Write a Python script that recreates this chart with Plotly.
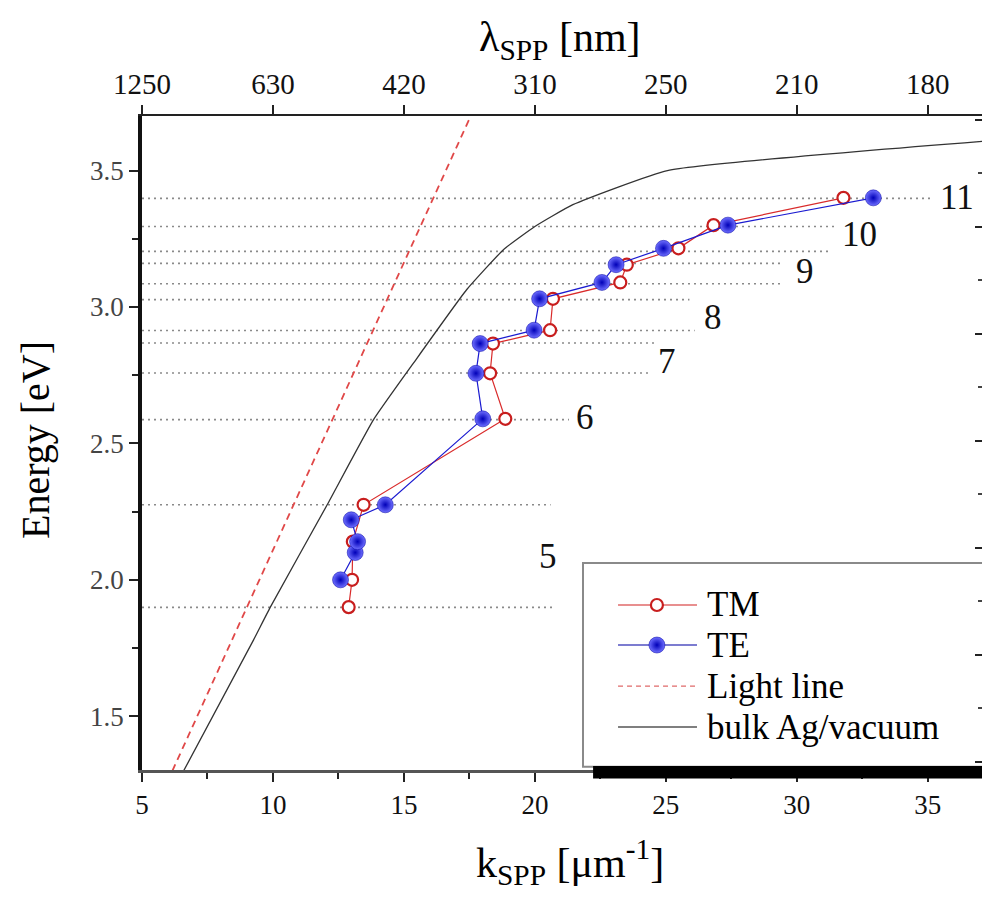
import plotly.graph_objects as go

# ---------------- data ----------------
k_ticks = [5, 10, 15, 20, 25, 30, 35]
lam_ticktext = ["1250", "630", "420", "310", "250", "210", "180"]
e_ticks = [1.5, 2.0, 2.5, 3.0, 3.5]

tm_k = [12.89, 13.02, 13.05, 13.46, 18.87, 18.29, 18.40, 20.58, 20.69, 23.26, 23.51, 25.48, 26.82, 31.78]
tm_E = [1.90, 2.00, 2.14, 2.275, 2.59, 2.757, 2.866, 2.915, 3.03, 3.09, 3.155, 3.215, 3.30, 3.40]

te_k = [12.58, 13.14, 13.23, 12.99, 14.29, 18.01, 17.75, 17.91, 19.97, 20.18, 22.56, 23.10, 24.91, 27.37, 32.92]
te_E = [2.00, 2.10, 2.14, 2.22, 2.275, 2.59, 2.757, 2.866, 2.915, 3.03, 3.09, 3.155, 3.215, 3.30, 3.40]

light_k = [6.16, 17.55]
light_E = [1.30, 3.70]

bulk_k = [6.59, 9.26, 9.90, 12.07, 13.84, 15.37, 17.40, 18.8, 20.0, 21.45, 25.06, 37.07]
bulk_E = [1.30, 1.78, 1.90, 2.275, 2.587, 2.795, 3.064, 3.21, 3.295, 3.375, 3.50, 3.607]

level_E = [3.398, 3.295, 3.204, 3.160, 3.085, 3.027, 2.914, 2.868, 2.758, 2.587, 2.275, 1.899]
level_kend = [35.1, 31.5, 31.3, 29.4, 29.4, 25.9, 26.1, 24.6, 24.4, 21.3, 20.6, 20.8]

mode_labels = ["5", "6", "7", "8", "9", "10", "11"]
mode_label_k = [20.49, 21.9, 25.05, 26.8, 30.3, 32.4, 36.1]
mode_label_E = [2.086, 2.594, 2.80, 2.96, 3.13, 3.265, 3.40]

legend_names = ["TM", "TE", "Light line", "bulk Ag/vacuum"]

# ---------------- style ----------------
X_RANGE = [5, 37.07]
Y_RANGE = [1.303, 3.70]
RED = "#d92b2b"
BLUE = "#1a1ad0"
FONT = "Liberation Serif"

fig = go.Figure()

# dotted mode levels
for E, kend in zip(level_E, level_kend):
    fig.add_trace(go.Scatter(x=[X_RANGE[0], kend], y=[E, E], mode="lines",
                             line=dict(color="#8a8a8a", width=1.6, dash="2px,4px"),
                             showlegend=False, hoverinfo="skip"))

# light line
fig.add_trace(go.Scatter(x=light_k, y=light_E, mode="lines", name="Light line",
                         line=dict(color="#e04848", width=1.8, dash="7px,5px"), showlegend=False))
# bulk Ag / vacuum
fig.add_trace(go.Scatter(x=bulk_k, y=bulk_E, mode="lines", name="bulk Ag/vacuum",
                         line=dict(color="#333333", width=1.3, shape="spline", smoothing=0.4),
                         showlegend=False))

# TM
fig.add_trace(go.Scatter(x=tm_k, y=tm_E, mode="lines+markers", name="TM",
                         line=dict(color=RED, width=1.2),
                         marker=dict(symbol="circle", size=12, color="white",
                                     line=dict(color="#c81e1e", width=2.2)),
                         showlegend=False))
# TE
te_marker = dict(symbol="circle", size=16, color="#6f6fff",
                 gradient=dict(type="radial", color="#0000b8"),
                 line=dict(color="#0000a0", width=0.5))
fig.add_trace(go.Scatter(x=te_k, y=te_E, mode="lines+markers", name="TE",
                         line=dict(color=BLUE, width=1.2),
                         marker=te_marker, showlegend=False))

# dummy traces so overlay axes are drawn
fig.add_trace(go.Scatter(x=[None], y=[None], xaxis="x2", yaxis="y", showlegend=False, hoverinfo="skip"))
fig.add_trace(go.Scatter(x=[None], y=[None], xaxis="x3", yaxis="y2", showlegend=False, hoverinfo="skip"))

# ---------------- custom legend (overlay axes in [0,1] plot-area units) ----------------
leg_rows = [0.2523, 0.1911, 0.1284, 0.0657]
lx0, lxm, lx1, ltext = 0.5667, 0.613, 0.6607, 0.670
fig.add_trace(go.Scatter(x=[lx0, lx1], y=[leg_rows[0]] * 2, xaxis="x3", yaxis="y3", mode="lines",
                         line=dict(color="#e06a6a", width=1.5), showlegend=False, hoverinfo="skip"))
fig.add_trace(go.Scatter(x=[lxm], y=[leg_rows[0]], xaxis="x3", yaxis="y3", mode="markers",
                         marker=dict(symbol="circle", size=12, color="white",
                                     line=dict(color="#c81e1e", width=2.2)),
                         showlegend=False, hoverinfo="skip"))
fig.add_trace(go.Scatter(x=[lx0, lx1], y=[leg_rows[1]] * 2, xaxis="x3", yaxis="y3", mode="lines",
                         line=dict(color="#5050c0", width=1.5), showlegend=False, hoverinfo="skip"))
fig.add_trace(go.Scatter(x=[lxm], y=[leg_rows[1]], xaxis="x3", yaxis="y3", mode="markers",
                         marker=te_marker, showlegend=False, hoverinfo="skip"))
fig.add_trace(go.Scatter(x=[lx0, lx1], y=[leg_rows[2]] * 2, xaxis="x3", yaxis="y3", mode="lines",
                         line=dict(color="#e06a6a", width=1.3, dash="5px,4px"), showlegend=False, hoverinfo="skip"))
fig.add_trace(go.Scatter(x=[lx0, lx1], y=[leg_rows[3]] * 2, xaxis="x3", yaxis="y3", mode="lines",
                         line=dict(color="#555555", width=1.5), showlegend=False, hoverinfo="skip"))

annotations = []
for name, yy in zip(legend_names, leg_rows):
    annotations.append(dict(x=ltext, y=yy, xref="paper", yref="paper", text=name, showarrow=False,
                            xanchor="left", yanchor="middle", font=dict(family=FONT, size=35, color="black")))

for t, kk, ee in zip(mode_labels, mode_label_k, mode_label_E):
    annotations.append(dict(x=kk, y=ee, xref="x", yref="y", text=t, showarrow=False,
                            xanchor="center", yanchor="middle", font=dict(family=FONT, size=35, color="#111")))

# axis titles
annotations.append(dict(x=-0.127, y=0.505, xref="paper", yref="paper", text="Energy [eV]", textangle=-90,
                        xanchor="center", yanchor="middle",
                        showarrow=False, font=dict(family=FONT, size=40, color="black")))
annotations.append(dict(x=0.51, y=-0.141, xref="paper", yref="paper",
                        xanchor="center", yanchor="middle",
                        text="k<sub>SPP</sub> [μm<sup>-1</sup>]", showarrow=False,
                        font=dict(family=FONT, size=42, color="black")))
annotations.append(dict(x=0.498, y=1.116, xref="paper", yref="paper",
                        xanchor="center", yanchor="middle",
                        text="λ<sub>SPP</sub> [nm]", showarrow=False,
                        font=dict(family=FONT, size=42, color="black")))

shapes = [
    # legend frame
    dict(type="rect", xref="paper", yref="paper", x0=0.525, x1=1.02, y0=0.005, y1=0.3165,
         line=dict(color="#8a8a8a", width=2), fillcolor="white", layer="below"),
    # heavy bottom bar
    dict(type="rect", xref="paper", yref="paper", x0=0.537, x1=1.0, y0=-0.013, y1=0.006,
         line=dict(width=0), fillcolor="black", layer="above"),
]

minor_k = [(a + b) / 2 for a, b in zip(k_ticks[:-1], k_ticks[1:])] + [k_ticks[-1] + 2.5]

fig.update_layout(
    width=982, height=903,
    margin=dict(l=142, r=0, t=116, b=133),
    plot_bgcolor="white", paper_bgcolor="white",
    showlegend=False,
    font=dict(family=FONT, color="black"),
    annotations=annotations, shapes=shapes,
    xaxis=dict(range=X_RANGE, tickmode="array", tickvals=k_ticks, ticks="outside", ticklen=9,
               tickwidth=2, tickcolor="#222", showline=True, linecolor="#555", linewidth=2.5,
               showgrid=False, zeroline=False, tickfont=dict(size=27, family=FONT, color="#111"),
               minor=dict(ticks="outside", ticklen=6, tickwidth=1.5, tickcolor="#222",
                          tickmode="array", tickvals=minor_k)),
    xaxis2=dict(range=X_RANGE, overlaying="x", side="top", anchor="y", tickmode="array",
                tickvals=k_ticks, ticktext=lam_ticktext, ticks="outside", ticklen=9, tickwidth=2,
                tickcolor="#222", showline=True, linecolor="#222", linewidth=1.5,
                showgrid=False, zeroline=False, tickfont=dict(size=29, family=FONT, color="#111")),
    xaxis3=dict(range=[0, 1], overlaying="x", visible=False, anchor="y3"),
    yaxis=dict(range=Y_RANGE, tickmode="array", tickvals=e_ticks, tickformat=".1f",
               ticks="outside", ticklen=9, tickwidth=2, tickcolor="#222",
               showline=True, linecolor="#111", linewidth=3.5, showgrid=False, zeroline=False,
               tickfont=dict(size=27, family=FONT, color="#444"),
               minor=dict(ticks="outside", ticklen=6, tickwidth=1.5, tickcolor="#222", dtick=0.25,
                          tick0=1.5)),
    yaxis2=dict(range=[-1.075, 5.037], overlaying="y", side="right", anchor="x3", dtick=1,
                ticks="inside", ticklen=7, tickwidth=2, tickcolor="#222", showticklabels=False,
                showline=False, showgrid=False, zeroline=False,
                minor=dict(ticks="inside", ticklen=4, tickwidth=1.5, tickcolor="#444", dtick=0.5)),
    yaxis3=dict(range=[0, 1], overlaying="y", visible=False, anchor="x3"),
)

fig.write_html("out.html")
